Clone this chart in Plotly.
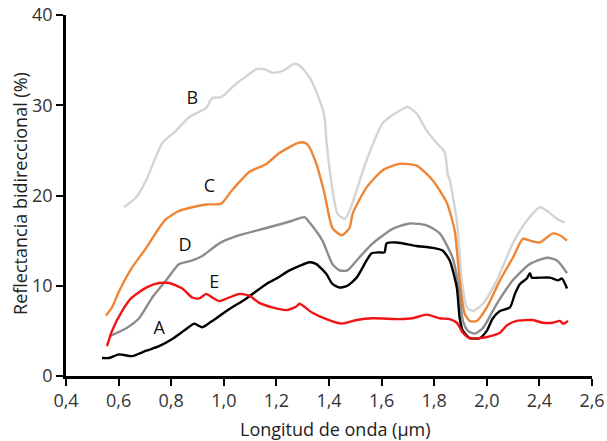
import plotly.graph_objects as go

# Tick positions (linear axis units) and the labels printed in the reference
x_tickvals = [0.4, 0.6, 0.8, 1.0, 1.2, 1.4, 1.6, 1.8, 2.0, 2.2, 2.4]
x_ticktext = ["0,4", "0,6", "0,8", "1,0", "1,2", "1,4", "1,6", "1,8", "2,0", "2,4", "2,6"]
y_tickvals = [0, 10, 20, 30, 40]

# Curve B (light gray)
b_x = [0.621, 0.667, 0.705, 0.766, 0.819, 0.869, 0.933, 0.956, 0.99, 1.047, 1.09, 1.124, 1.154, 1.185,
       1.223, 1.269, 1.288, 1.326, 1.364, 1.383, 1.39, 1.41, 1.432, 1.46, 1.478, 1.543, 1.604, 1.657,
       1.699, 1.733, 1.771, 1.81, 1.84, 1.851, 1.859, 1.886, 1.905, 1.924, 1.947, 1.985, 2.038, 2.099,
       2.152, 2.202, 2.229, 2.267, 2.297]
b_y = [18.7, 19.8, 21.7, 25.8, 27.2, 28.7, 29.7, 30.8, 30.9, 32.4, 33.3, 34.0, 34.0, 33.6,
       33.8, 34.6, 34.4, 33.1, 30.6, 28.7, 26.1, 21.3, 18.0, 17.4, 18.3, 23.9, 28.0, 29.2,
       29.8, 29.1, 27.2, 25.8, 24.8, 22.4, 21.7, 17.2, 10.6, 7.6, 7.2, 8.0, 10.6, 14.7,
       17.2, 18.7, 18.3, 17.4, 17.0]

# Curve C (orange)
c_x = [0.552, 0.575, 0.602, 0.651, 0.705, 0.754, 0.781, 0.83, 0.88, 0.933, 0.99, 1.032, 1.097, 1.162,
       1.211, 1.28, 1.3, 1.32, 1.352, 1.383, 1.413, 1.448, 1.478, 1.49, 1.543, 1.604, 1.669, 1.733,
       1.794, 1.848, 1.878, 1.897, 1.916, 1.935, 1.962, 2.0, 2.05, 2.099, 2.137, 2.164, 2.202, 2.251,
       2.278, 2.305]
c_y = [6.7, 7.6, 9.4, 12.0, 14.2, 16.4, 17.4, 18.3, 18.7, 19.0, 19.1, 20.6, 22.6, 23.5,
       24.7, 25.8, 25.9, 25.6, 23.5, 20.2, 16.4, 15.6, 16.4, 18.0, 20.9, 22.8, 23.5, 23.3,
       21.7, 19.2, 16.1, 10.6, 6.9, 6.1, 6.1, 7.6, 10.6, 13.1, 15.2, 15.0, 14.8, 15.8,
       15.6, 15.0]

# Curve D (gray)
d_x = [0.564, 0.629, 0.678, 0.728, 0.781, 0.83, 0.88, 0.918, 0.983, 1.059, 1.162, 1.261, 1.307, 1.326,
       1.375, 1.413, 1.44, 1.47, 1.505, 1.566, 1.642, 1.707, 1.771, 1.821, 1.87, 1.897, 1.909, 1.928,
       1.954, 1.985, 2.038, 2.099, 2.164, 2.229, 2.267, 2.305]
d_y = [4.4, 5.3, 6.4, 8.7, 10.6, 12.4, 12.8, 13.3, 14.7, 15.6, 16.4, 17.2, 17.6, 17.0,
       15.0, 12.4, 11.7, 11.7, 12.8, 14.7, 16.3, 16.9, 16.7, 15.8, 13.1, 9.1, 6.1, 5.0,
       4.7, 5.3, 8.0, 10.6, 12.4, 13.1, 12.8, 11.4]

# Curve A (black)
a_x = [0.537, 0.564, 0.602, 0.651, 0.705, 0.754, 0.804, 0.857, 0.888, 0.918, 0.956, 1.01, 1.086, 1.162,
       1.2, 1.25, 1.288, 1.326, 1.352, 1.39, 1.413, 1.44, 1.47, 1.505, 1.543, 1.562, 1.592, 1.611,
       1.619, 1.657, 1.733, 1.794, 1.832, 1.859, 1.886, 1.897, 1.909, 1.935, 1.973, 2.0, 2.023, 2.05,
       2.088, 2.107, 2.126, 2.152, 2.164, 2.171, 2.202, 2.24, 2.27, 2.286, 2.305]
a_y = [2.0, 2.0, 2.4, 2.2, 2.8, 3.3, 4.1, 5.2, 5.8, 5.4, 6.1, 7.2, 8.6, 10.2,
       10.8, 11.7, 12.2, 12.6, 12.4, 11.3, 10.2, 9.8, 10.0, 10.9, 12.8, 13.6, 13.7, 13.7,
       14.7, 14.8, 14.4, 14.2, 13.9, 12.8, 9.8, 6.4, 5.0, 4.2, 4.2, 5.0, 6.4, 7.2,
       7.6, 9.1, 10.2, 10.8, 11.4, 10.9, 10.9, 10.9, 10.6, 10.8, 9.7]

# Curve E (red)
e_x = [0.556, 0.575, 0.613, 0.651, 0.705, 0.754, 0.792, 0.842, 0.88, 0.907, 0.933, 0.956, 0.983, 1.021,
       1.059, 1.097, 1.135, 1.185, 1.238, 1.276, 1.288, 1.337, 1.39, 1.448, 1.505, 1.566, 1.669, 1.718,
       1.771, 1.821, 1.859, 1.886, 1.909, 1.935, 1.973, 2.011, 2.05, 2.076, 2.114, 2.175, 2.213, 2.251,
       2.278, 2.29, 2.309]
e_y = [3.3, 5.0, 7.2, 8.7, 9.8, 10.3, 10.3, 9.7, 8.7, 8.6, 9.1, 8.7, 8.3, 8.7,
       9.1, 8.9, 8.1, 7.6, 7.3, 7.7, 8.0, 7.0, 6.3, 5.8, 6.2, 6.4, 6.3, 6.4,
       6.8, 6.4, 6.3, 5.9, 4.8, 4.2, 4.2, 4.4, 4.8, 5.6, 6.1, 6.2, 5.9, 5.9,
       6.1, 5.8, 6.1]

label_text = ["B", "C", "D", "E", "A"]
label_x = [0.88, 0.945, 0.853, 0.964, 0.754]
label_y = [30.6, 20.9, 14.3, 10.2, 5.2]

series = [
    (b_x, b_y, "#d4d4d4"),
    (c_x, c_y, "#ee8636"),
    (d_x, d_y, "#8c8c8c"),
    (a_x, a_y, "#000000"),
    (e_x, e_y, "#f01414"),
]

font_family = "Open Sans"

fig = go.Figure()
for xs, ys, col in series:
    fig.add_trace(go.Scatter(x=xs, y=ys, mode="lines",
                             line=dict(color=col, width=2.4, shape="spline", smoothing=0.6),
                             showlegend=False, hoverinfo="skip"))

fig.add_trace(go.Scatter(x=label_x, y=label_y, mode="text", text=label_text,
                         textfont=dict(family=font_family, size=18, color="#111111"),
                         showlegend=False, hoverinfo="skip"))

fig.update_layout(
    width=607, height=441,
    margin=dict(l=66, r=15, t=15, b=65),
    paper_bgcolor="white", plot_bgcolor="white",
    font=dict(family=font_family, size=18, color="#333333"),
    xaxis=dict(range=[0.4, 2.4], tickvals=x_tickvals, ticktext=x_ticktext, automargin=False,
               showgrid=False, zeroline=False, showline=True, linecolor="black", linewidth=2.5,
               ticks="outside", ticklen=7, tickwidth=2, tickcolor="black",
               ticklabeloverflow="allow",
               tickfont=dict(family=font_family, size=18, color="#333333")),
    yaxis=dict(range=[0, 40], tickvals=y_tickvals, automargin=False,
               showgrid=False, zeroline=False, showline=True, linecolor="black", linewidth=2.5,
               ticks="outside", ticklen=7, tickwidth=2, tickcolor="black",
               ticklabeloverflow="allow",
               tickfont=dict(family=font_family, size=18, color="#333333")),
    annotations=[
        dict(text="Longitud de onda (µm)", xref="paper", yref="paper", x=0.513, y=-0.147,
             xanchor="center", yanchor="middle", showarrow=False,
             font=dict(family=font_family, size=18, color="#222222")),
        dict(text="Reflectancia bidireccional (%)", xref="paper", yref="paper", x=-0.0875, y=0.507,
             xanchor="center", yanchor="middle", showarrow=False, textangle=-90,
             font=dict(family=font_family, size=18, color="#222222")),
    ],
)

fig.write_html("out.html", config={"displayModeBar": False},
               post_script="document.body.style.margin='0px';")
